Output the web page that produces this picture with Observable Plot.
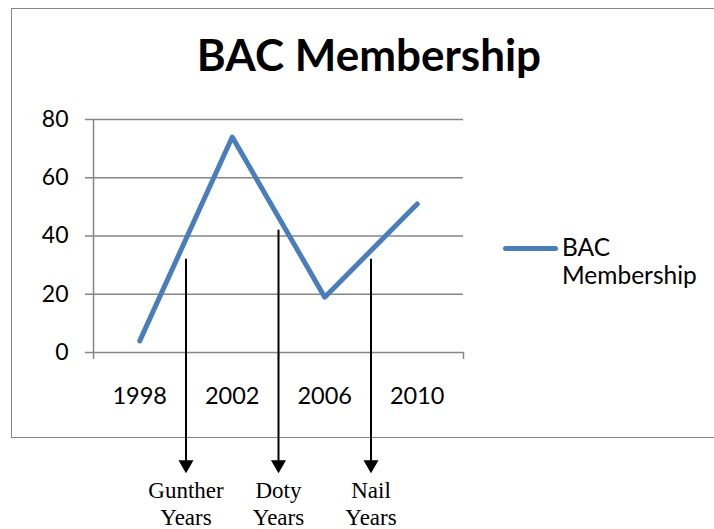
<!DOCTYPE html>
<html>
<head>
<meta charset="utf-8">
<script src="https://cdn.jsdelivr.net/npm/d3@7"></script>
<script src="https://cdn.jsdelivr.net/npm/@observablehq/plot@0.6"></script>
<style>
  html, body { margin: 0; padding: 0; background: #fff; }
  #wrap { position: relative; width: 714px; height: 529px; overflow: hidden; font-family: Lato, sans-serif; }
  #box { position: absolute; left: 11px; top: 8px; width: 760px; height: 430px; border: 1.5px solid #868686; box-sizing: border-box; }
  #title { position: absolute; left: 0; width: 738px; top: 28px; text-align: center; font: bold 44px Lato, sans-serif; color: #000; }
  #legend { position: absolute; left: 503px; top: 233px; display: flex; align-items: flex-start; }
  #legend .sw { width: 55px; height: 5px; background: #4a7ebb; border-radius: 3px; margin-top: 13px; }
  #legend .lb { font: 24.5px Lato, sans-serif; line-height: 28px; margin-left: 4px; color: #000; }
  #chart { position: absolute; left: 0; top: 0; }
</style>
</head>
<body>
<div id="wrap">
  <div id="box"></div>
  <div id="title">BAC Membership</div>
  <div id="legend"><div class="sw"></div><div class="lb">BAC<br>Membership</div></div>
  <div id="chart"></div>
</div>
<script>
// ---- data ----
const years = [1998, 2002, 2006, 2010];
const members = [4, 74, 19, 51];
const yTicks = [0, 20, 40, 60, 80];
const categoryEdges = [1996, 2000, 2004, 2008, 2012];
const eraNames = ["Gunther", "Doty", "Nail"];
const eraStart = [2000, 2004, 2008];
const eraArrowTop = [32, 42, 32];

const series = years.map((y, i) => ({year: y, value: members[i]}));
const eras = eraNames.map((n, i) => ({name: n, start: eraStart[i], top: eraArrowTop[i]}));

const gray = "#868686";

const chart = Plot.plot({
  width: 714,
  height: 529,
  marginLeft: 93,
  marginRight: 251,
  marginTop: 119,
  marginBottom: 177,
  x: {domain: [categoryEdges[0], categoryEdges[categoryEdges.length - 1]]},
  y: {domain: [0, 80]},
  style: {fontFamily: "Lato, sans-serif", background: "transparent", overflow: "visible", color: "#000"},
  marks: [
    Plot.gridY({ticks: yTicks, stroke: gray, strokeOpacity: 1, strokeWidth: 1.5}),
    Plot.ruleX([categoryEdges[0]], {stroke: gray, strokeWidth: 1.5}),
    Plot.axisY({ticks: yTicks, tickSize: 8, tickPadding: 17, fontSize: 23, stroke: gray, strokeWidth: 1.5, label: null}),
    Plot.axisX({ticks: categoryEdges, tickSize: 7, stroke: gray, strokeWidth: 1.5, fill: "none", label: null}),
    Plot.axisX({ticks: years, tickSize: 0, tickPadding: 35, fontSize: 23.5, tickFormat: d => String(d), label: null}),
    Plot.line(series, {x: "year", y: "value", stroke: "#4a7ebb", strokeWidth: 5, strokeLinecap: "round", strokeLinejoin: "round"}),
    Plot.ruleX(eras, {x: "start", y1: "top", y2: -38, stroke: "#000", strokeWidth: 2}),
    Plot.dot(eras, {x: "start", frameAnchor: "bottom", dy: 112, symbol: "triangle", rotate: 180, r: 5.6, fill: "#000", stroke: "none"}),
    Plot.text(eras, {x: "start", text: d => d.name + "\nYears", frameAnchor: "bottom", dy: 127, lineAnchor: "top", lineHeight: 1.15, fontSize: 23, fontFamily: "Liberation Serif, serif", fill: "#000"})
  ]
});
document.getElementById("chart").appendChild(chart);
</script>
</body>
</html>
